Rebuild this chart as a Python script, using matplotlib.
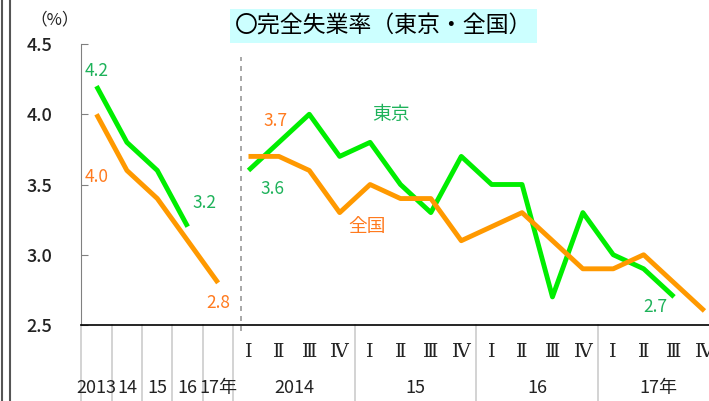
import numpy as np
import matplotlib
matplotlib.use("Agg")
import matplotlib.pyplot as plt
from matplotlib.lines import Line2D
from matplotlib.transforms import blended_transform_factory

plt.rcParams['font.family'] = ['Noto Sans CJK JP', 'DejaVu Sans']

# 年平均（2013〜17年）
annual_labels = ['2013', '14', '15', '16', '17年']
tokyo_annual = [4.2, 3.8, 3.6, 3.2]
national_annual = [4.0, 3.6, 3.4, 3.1, 2.8]

# 四半期（2014 I 〜 17 IV）
quarter_labels = ['Ⅰ', 'Ⅱ', 'Ⅲ', 'Ⅳ'] * 4
quarter_years = ['2014', '15', '16', '17年']
tokyo_quarter = [3.6, 3.8, 4.0, 3.7, 3.8, 3.5, 3.3, 3.7,
                 3.5, 3.5, 2.7, 3.3, 3.0, 2.9, 2.7]
national_quarter = [3.7, 3.7, 3.6, 3.3, 3.5, 3.4, 3.4, 3.1,
                    3.2, 3.3, 3.1, 2.9, 2.9, 3.0, 2.8, 2.6]

GREEN = '#00EE00'
ORANGE = '#FF9900'
GREEN_TXT = '#1EB25A'
ORANGE_TXT = '#FF7A1E'

W, H = 709, 401
fig = plt.figure(figsize=(W / 100, H / 100), dpi=100)
ax = fig.add_axes([81.3 / W, (H - 325) / H, (W - 81.3) / W, 281 / H])

n_a = len(annual_labels)
x_a = np.arange(n_a)
x_q = np.arange(n_a, n_a + len(quarter_labels))

lw = 3.5
ax.plot(x_a[:len(tokyo_annual)], tokyo_annual, color=GREEN, lw=lw, solid_capstyle='butt')
ax.plot(x_a, national_annual, color=ORANGE, lw=lw, solid_capstyle='butt')
ax.plot(x_q[:len(tokyo_quarter)], tokyo_quarter, color=GREEN, lw=lw, solid_capstyle='butt')
ax.plot(x_q, national_quarter, color=ORANGE, lw=lw, solid_capstyle='butt')

ax.set_xlim(-0.5, 20.15)
ax.set_ylim(2.5, 4.5)
ax.set_yticks([2.5, 3.0, 3.5, 4.0, 4.5])
ax.set_yticklabels(['2.5', '3.0', '3.5', '4.0', '4.5'])
ax.set_xticks([])
ax.tick_params(axis='y', direction='in', length=5, color='#808080',
               labelsize=13, pad=21, labelcolor='#222222')
for lab in ax.get_yticklabels():
    lab.set_fontweight('medium')
for s in ['top', 'right']:
    ax.spines[s].set_visible(False)
ax.spines['left'].set_color('#808080')
ax.spines['bottom'].set_color('black')
ax.spines['bottom'].set_linewidth(1.2)

trans = blended_transform_factory(ax.transData, ax.transAxes)

# 区切り線（軸の下）
for xb in [-0.5, 0.5, 1.5, 2.5, 3.5, 4.5, 8.5, 12.5, 16.5]:
    ax.add_line(Line2D([xb, xb], [0, -0.3], transform=trans, color='#d0d0d0',
                       lw=1.3, clip_on=False))
# 年次と四半期の境目（破線）
ax.add_line(Line2D([4.75, 4.75], [-0.02, 0.955], transform=trans, color='#999999',
                   lw=1.2, ls=(0, (3, 3)), clip_on=False))

# x軸ラベル
for i, lab in zip(x_a, annual_labels):
    ax.text(i, -0.225, lab, transform=trans, ha='center', va='center',
            fontsize=13, color='#222222')
for i, lab in zip(x_q, quarter_labels):
    ax.text(i, -0.095, lab, transform=trans, ha='center', va='center',
            fontsize=14, color='#222222',
            family=['DejaVu Serif', 'Noto Sans CJK JP'])
for k, lab in enumerate(quarter_years):
    ax.text(x_q[4 * k] + 1.5, -0.225, lab, transform=trans, ha='center', va='center',
            fontsize=13, color='#222222')

# データラベル
fs = 12.5
ax.text(0, 4.31, '4.2', color=GREEN_TXT, fontsize=fs, ha='center', va='center')
ax.text(0, 3.55, '4.0', color=ORANGE_TXT, fontsize=fs, ha='center', va='center')
ax.text(3.55, 3.37, '3.2', color=GREEN_TXT, fontsize=fs, ha='center', va='center')
ax.text(4.0, 2.66, '2.8', color=ORANGE_TXT, fontsize=fs, ha='center', va='center')
ax.text(5.88, 3.95, '3.7', color=ORANGE_TXT, fontsize=fs, ha='center', va='center')
ax.text(5.8, 3.47, '3.6', color=GREEN_TXT, fontsize=fs, ha='center', va='center')
ax.text(18.4, 2.63, '2.7', color=GREEN_TXT, fontsize=fs, ha='center', va='center')
ax.text(9.7, 4.0, '東京', color=GREEN_TXT, fontsize=13.5, ha='center', va='center')
ax.text(8.9, 3.2, '全国', color=ORANGE_TXT, fontsize=13.5, ha='center', va='center')

# タイトル
fig.text(383.5 / W, 1 - 26 / H, '〇完全失業率（東京・全国）', ha='center', va='center',
         fontsize=16.5, color='black',
         bbox=dict(boxstyle='square,pad=0.22', fc='#CCFFFF', ec='none'))
fig.text(55 / W, 1 - 20 / H, '（%）', ha='center', va='center', fontsize=12,
         color='#222222')

# 左端の二重線
for xp in [1.5, 9.5]:
    fig.add_artist(Line2D([xp / W, xp / W], [0, 1], transform=fig.transFigure,
                          color='#555555', lw=1.5))

fig.savefig('out.png', dpi=100)
